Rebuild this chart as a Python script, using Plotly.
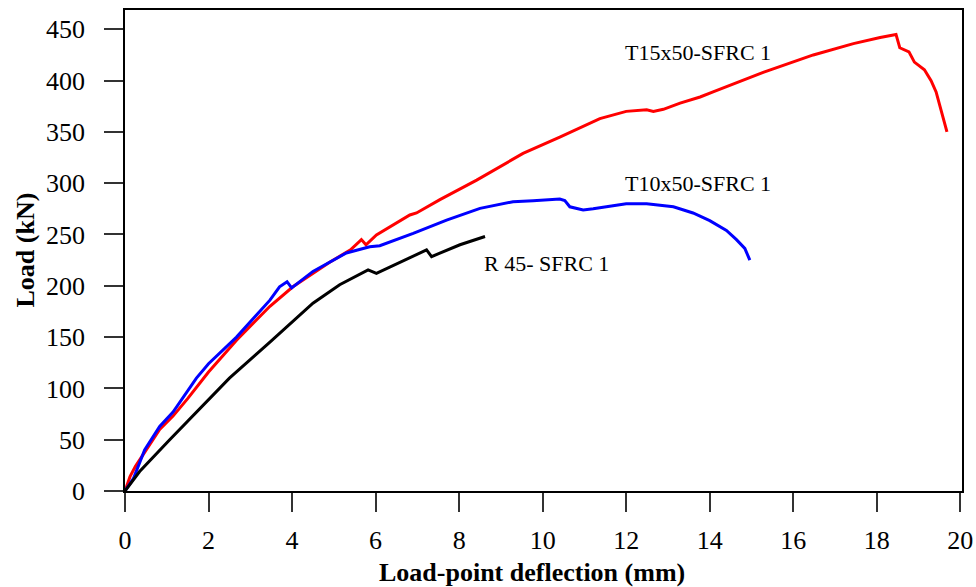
import plotly.graph_objects as go

# T15x50-SFRC 1 (red)
t15_x = [0, 0.12, 0.25, 0.47, 0.83, 1.15, 1.5, 2.0, 2.67, 3.47, 3.7, 4.02, 4.9, 5.4, 5.66, 5.77,
         6.02, 6.4, 6.82, 6.98, 7.54, 8.42, 8.97, 9.53, 10.41, 11.37, 12.0, 12.49, 12.65, 12.89,
         13.29, 13.77, 14.08, 15.28, 16.48, 17.44, 18.08, 18.4, 18.46, 18.55, 18.77, 18.9, 19.14,
         19.3, 19.42, 19.68]
t15_y = [0, 14, 24, 38, 60, 73, 90, 116, 147, 180, 188, 199, 223, 235, 245, 240,
         249.5, 259, 269, 271, 284, 303, 316, 329, 345, 363, 370, 371.5, 370, 372,
         378, 384, 389, 408, 425, 436, 442, 444.5, 445, 432, 428, 418, 410.5,
         400, 389, 350]

# T10x50-SFRC 1 (blue)
t10_x = [0, 0.2, 0.47, 0.83, 1.15, 1.71, 2.0, 2.67, 3.47, 3.7, 3.88, 3.99, 4.5, 5.3, 5.86, 6.1,
         6.9, 7.7, 8.5, 9.29, 9.77, 10.41, 10.53, 10.65, 10.97, 11.21, 12.0, 12.49, 13.13, 13.6,
         14.0, 14.4, 14.64, 14.84, 14.96]
t10_y = [0, 12, 40, 63, 77, 110, 124, 150, 186, 199, 204, 198, 214, 232, 238, 239,
         251, 264, 275.5, 282, 283, 284.5, 283, 277, 274, 275, 280, 280, 277, 271,
         263.5, 254, 245, 236.5, 225]

# R 45- SFRC 1 (black)
r45_x = [0, 0.35, 1.07, 1.87, 2.5, 3.47, 3.87, 4.5, 5.14, 5.82, 6.02, 7.22, 7.34, 8.02, 8.62]
r45_y = [0, 19, 50, 83, 110, 145, 160, 183, 201, 215.5, 212, 235, 228.5, 240, 248]

x_ticks = [0, 2, 4, 6, 8, 10, 12, 14, 16, 18, 20]
y_ticks = [0, 50, 100, 150, 200, 250, 300, 350, 400, 450]

labels = [("T15x50-SFRC 1", 11.92, 427), ("T10x50-SFRC 1", 11.92, 300), ("R 45- SFRC 1", 8.54, 222)]

FONT = "Liberation Serif, Times New Roman, serif"

fig = go.Figure()
fig.add_trace(go.Scatter(x=t15_x, y=t15_y, mode="lines", line=dict(color="#ff0000", width=3), name="T15x50-SFRC 1"))
fig.add_trace(go.Scatter(x=t10_x, y=t10_y, mode="lines", line=dict(color="#0000ff", width=3), name="T10x50-SFRC 1"))
fig.add_trace(go.Scatter(x=r45_x, y=r45_y, mode="lines", line=dict(color="#000000", width=3), name="R 45- SFRC 1"))

for txt, x, y in labels:
    fig.add_annotation(x=x, y=y, text=txt, showarrow=False, xanchor="left", yanchor="middle",
                       font=dict(family=FONT, size=22, color="black"))

fig.add_annotation(xref="x", yref="paper", x=(532 - 125.3) / 41.75, y=0, yshift=-81,
                   text="<b>Load-point deflection (mm)</b>", showarrow=False,
                   xanchor="center", yanchor="middle", font=dict(family=FONT, size=26, color="black"))
fig.add_annotation(xref="paper", yref="paper", x=0, y=0.5, xshift=-100, textangle=-90,
                   text="<b>Load (kN)</b>", showarrow=False,
                   xanchor="center", yanchor="middle", font=dict(family=FONT, size=26, color="black"))

fig.update_layout(
    width=976, height=587,
    margin=dict(l=125, r=14, t=10, b=96, autoexpand=False),
    paper_bgcolor="white", plot_bgcolor="white",
    showlegend=False,
    font=dict(family=FONT, size=26, color="black"),
)
fig.update_xaxes(range=[0, 20.04], tickvals=x_ticks, ticktext=[str(v) for v in x_ticks],
                 ticks="outside", ticklen=19, tickwidth=1.5, tickcolor="#333",
                 showline=True, linecolor="black", linewidth=1.5, mirror=True,
                 showgrid=False, zeroline=False, ticklabelstandoff=6, automargin=False,
                 tickfont=dict(family=FONT, size=26, color="black"))
fig.update_yaxes(range=[0, 468.8], tickvals=y_ticks, ticktext=[str(v) for v in y_ticks],
                 ticks="outside", ticklen=19, tickwidth=1.5, tickcolor="#333",
                 showline=True, linecolor="black", linewidth=1.5, mirror=True,
                 showgrid=False, zeroline=False, ticklabelstandoff=14, automargin=False,
                 tickfont=dict(family=FONT, size=26, color="black"))

fig.write_html("out.html")
